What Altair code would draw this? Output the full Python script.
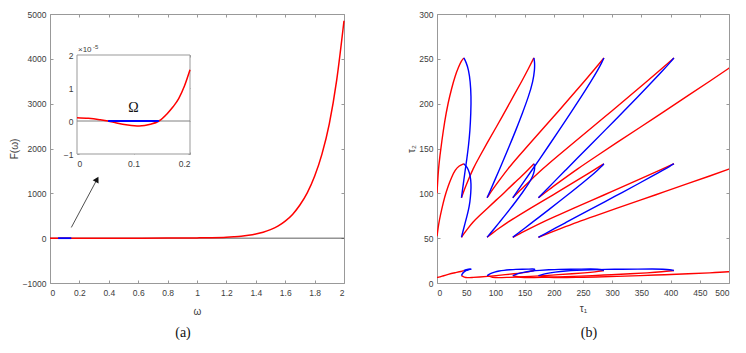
import altair as alt
import pandas as pd

SANS = "Liberation Sans, Arial, DejaVu Sans"
SERIF = "Liberation Serif, Times New Roman, DejaVu Serif"
LBL = "#3c3c3c"
BOX = "#999999"
RED = "#ff0000"
BLUE = "#0000ff"
FS = 8.5

# ---------------- panel (a): F(omega) ----------------
omega = [0.0, 0.2, 0.4, 0.6, 0.8, 1.0, 1.1, 1.2, 1.25, 1.3, 1.35, 1.4, 1.45, 1.5, 1.55, 1.6,
         1.65, 1.7, 1.75, 1.8, 1.85, 1.9, 1.95, 2.0]
F_omega = [0, 0, 0, 0.5, 2, 6, 11, 22, 32, 45, 66, 95, 134, 190, 268, 380,
           530, 740, 1010, 1380, 1875, 2550, 3520, 4850]
omega_ticks = [0, 0.2, 0.4, 0.6, 0.8, 1, 1.2, 1.4, 1.6, 1.8, 2]
F_ticks = [-1000, 0, 1000, 2000, 3000, 4000, 5000]
Omega_range = [0.055, 0.145]
arrow_omega = [0.145, 0.32]
arrow_F = [239, 1312]

# inset, F in units of 1e-5
zoom_omega = [0, 0.02, 0.04, 0.055, 0.07, 0.09, 0.11, 0.13, 0.145, 0.16, 0.17, 0.18, 0.19, 0.2]
zoom_F = [0.10, 0.08, 0.04, 0.0, -0.06, -0.12, -0.15, -0.10, 0.0, 0.23, 0.43, 0.68, 1.05, 1.55]
zoom_x_ticks = [0, 0.1, 0.2]
zoom_y_ticks = [-1, 0, 1, 2]

# ---------------- panel (b): crossing curves ----------------
tau1_ticks = [0, 50, 100, 150, 200, 250, 300, 350, 400, 450, 500]
tau2_ticks = [0, 50, 100, 150, 200, 250, 300]

# red branches (m = 1..4), tau1 shared by all families
red_tau1_m1 = [41.9, 46.8, 51.9, 61.8, 72.5, 86.3, 101.1, 117.0, 131.8, 145.5, 156.8, 165.9]
red_tau1_m2 = [85.8, 95.1, 104.3, 121.7, 138.6, 160.2, 183.2, 208.1, 231.5, 252.9, 271.0, 285.8]
red_tau1_m3 = [129.8, 143.5, 156.7, 181.5, 204.7, 234.1, 265.4, 299.1, 331.3, 360.3, 385.3, 405.7]
red_tau1_m4 = [173.7, 191.8, 209.0, 241.4, 270.9, 308.0, 347.5, 390.2, 431.0, 467.7, 499.5, 525.6]
red_tau2_n2 = [95.1, 104.2, 112.4, 127.7, 140.6, 156.6, 173.5, 191.7, 209.5, 225.3, 239.3, 251.0]
red_tau2_n1 = [51.0, 55.7, 60.1, 68.2, 74.9, 83.4, 92.3, 101.9, 111.3, 119.5, 126.9, 133.0]
red_tau2_n0 = [8.2, 6.2, 5.8, 6.3, 6.7, 7.4, 8.2, 9.3, 10.3, 11.3, 12.4, 13.9]
# red branches starting at the tau2 axis
red0_n2_tau1 = [0, 1, 2.5, 5, 8, 13, 19, 25, 31, 37, 42, 46]
red0_n2_tau2 = [100, 112, 127, 142, 157, 180, 201, 217, 231, 241, 248, 251]
red0_n1_tau1 = [0, 2, 4, 8, 13, 19, 25, 31, 38, 46]
red0_n1_tau2 = [52, 62, 70, 82, 96, 108, 118, 126, 131, 133]
red0_n0_tau1 = [0, 2.5, 8, 19, 31, 42, 46]
red0_n0_tau2 = [6.3, 6.3, 7.4, 9.8, 11.5, 12.9, 13.9]

# blue branches (m = 0..3)
blue_tau1_m0 = [46.0, 50.0, 54.0, 57.0, 58.5, 58.0, 56.5, 54.0, 51.0, 48.3, 45.8, 43.5, 41.9]
blue_tau1_m1 = [165.9, 167.3, 167.2, 164.5, 156.8, 146.6, 134.8, 124.0, 114.4, 106.5, 98.5, 91.2, 85.8]
blue_tau1_m2 = [285.8, 282.3, 275.8, 263.8, 247.3, 229.3, 208.7, 191.2, 175.5, 162.7, 149.9, 138.2, 129.8]
blue_tau1_m3 = [405.7, 399.2, 388.3, 369.5, 344.2, 317.4, 287.2, 261.4, 238.5, 220.4, 202.2, 185.7, 173.7]
blue_tau2_n2 = [251, 246, 238, 225, 208, 190, 170, 153, 138, 126, 114, 103, 95.1]
blue_tau2_n1 = [133, 130.4, 126.3, 119.4, 110.5, 101.1, 90.6, 81.6, 73.7, 67.4, 61.0, 55.2, 51.0]
blue_tau2_n0 = [13.9, 14.8, 15.4, 15.6, 15.5, 15.4, 15.3, 14.7, 14.1, 13.4, 12.2, 10.5, 8.2]


def add(rows, name, t1, t2):
    for i, (a, b) in enumerate(zip(t1, t2)):
        rows.append({"br": name, "i": i, "t1": a, "t2": b})


red_rows, blue_rows = [], []
for nname, t2 in [("n2", red_tau2_n2), ("n1", red_tau2_n1), ("n0", red_tau2_n0)]:
    for m, t1 in enumerate([red_tau1_m1, red_tau1_m2, red_tau1_m3, red_tau1_m4], start=1):
        add(red_rows, f"R{m}{nname}", t1, t2)
add(red_rows, "R0n2", red0_n2_tau1, red0_n2_tau2)
add(red_rows, "R0n1", red0_n1_tau1, red0_n1_tau2)
add(red_rows, "R0n0", red0_n0_tau1, red0_n0_tau2)
for nname, t2 in [("n2", blue_tau2_n2), ("n1", blue_tau2_n1), ("n0", blue_tau2_n0)]:
    for m, t1 in enumerate([blue_tau1_m0, blue_tau1_m1, blue_tau1_m2, blue_tau1_m3]):
        add(blue_rows, f"B{m}{nname}", t1, t2)
red_df = pd.DataFrame(red_rows)
blue_df = pd.DataFrame(blue_rows)

W, H = 294, 269
W2 = 292


def lab_axis(orient, values, title, fmt, title_pad=6, label_pad=4):
    return alt.Axis(orient=orient, values=values, format=fmt, title=title,
                    labelFont=SANS, labelFontSize=FS, labelColor=LBL,
                    titleFont=SANS, titleFontSize=10, titleFontWeight="normal",
                    titleColor=LBL, titlePadding=title_pad, labelPadding=label_pad,
                    ticks=False, domain=False, grid=False)


def tick_axis(orient, values, offset, size=3):
    return alt.Axis(orient=orient, values=values, offset=offset, labels=False,
                    ticks=True, tickSize=size, tickColor=BOX, tickWidth=1,
                    domain=False, grid=False, title=None)


# ---------- left main ----------
xs = alt.Scale(domain=[0, 2], nice=False, zero=False)
ys = alt.Scale(domain=[-1000, 5000], nice=False, zero=False)
main_df = pd.DataFrame({"w": omega, "F": F_omega})
zero_df = pd.DataFrame({"w": [0, 2], "F": [0, 0]})
seg_df = pd.DataFrame({"w": Omega_range, "F": [0, 0]})
arr_df = pd.DataFrame({"w": arrow_omega, "F": arrow_F})
head_df = pd.DataFrame({"w": [arrow_omega[1]], "F": [arrow_F[1]]})

zero_line = alt.Chart(zero_df).mark_line(color="#333333", strokeWidth=0.8).encode(
    x=alt.X("w:Q", scale=xs, axis=lab_axis("bottom", omega_ticks, "ω", "~g", title_pad=10, label_pad=5)),
    y=alt.Y("F:Q", scale=ys, axis=lab_axis("left", F_ticks, "F(ω)", "d", title_pad=3)),
)
red_curve = alt.Chart(main_df).mark_line(color=RED, strokeWidth=1.5, interpolate="monotone").encode(
    x=alt.X("w:Q", scale=xs, axis=None), y=alt.Y("F:Q", scale=ys, axis=None))
blue_seg = alt.Chart(seg_df).mark_line(color=BLUE, strokeWidth=1.8).encode(
    x=alt.X("w:Q", scale=xs, axis=None), y=alt.Y("F:Q", scale=ys, axis=None))
shaft = alt.Chart(arr_df).mark_line(color="#222222", strokeWidth=0.8).encode(
    x=alt.X("w:Q", scale=xs, axis=None), y=alt.Y("F:Q", scale=ys, axis=None))
head = alt.Chart(head_df).mark_point(shape="triangle-up", angle=29, filled=True, color="#111111",
                                     size=45, opacity=1).encode(
    x=alt.X("w:Q", scale=xs, axis=None), y=alt.Y("F:Q", scale=ys, axis=None))
tA = alt.Chart(zero_df).mark_point(opacity=0).encode(
    x=alt.X("w:Q", scale=xs, axis=tick_axis("top", omega_ticks, -H)),
    y=alt.Y("F:Q", scale=ys, axis=tick_axis("right", F_ticks, -W)))
tB = alt.Chart(zero_df).mark_point(opacity=0).encode(
    x=alt.X("w:Q", scale=xs, axis=tick_axis("bottom", omega_ticks, -H)),
    y=alt.Y("F:Q", scale=ys, axis=tick_axis("left", F_ticks, -W)))
main_sub = alt.layer(zero_line, red_curve, blue_seg, shaft, head, tA, tB).resolve_axis(
    x="independent", y="independent")

# ---------- inset ----------
IX0, IX1, IY0, IY1 = 27, 140, 140, 41
ixs = alt.Scale(domain=[0, 0.2], range=[IX0, IX1], nice=False, zero=False)
iys = alt.Scale(domain=[-1, 2], range=[IY0, IY1], nice=False, zero=False)
box_df = pd.DataFrame({"x0": [0], "x1": [0.2], "y0": [-1], "y1": [2]})
zdf = pd.DataFrame({"w": zoom_omega, "F": zoom_F})
izero = pd.DataFrame({"w": [0, 0.2], "F": [0, 0]})
iseg = pd.DataFrame({"w": Omega_range, "F": [0, 0]})
om_df = pd.DataFrame({"w": [0.1], "F": [0.4]})
exp_df = pd.DataFrame({"w": [0], "F": [2]})

ibox = alt.Chart(box_df).mark_rect(fill="white", stroke=BOX, strokeWidth=1).encode(
    x=alt.X("x0:Q", scale=ixs, axis=alt.Axis(orient="bottom", offset=-(H - IY0), values=zoom_x_ticks,
                                             format="~g", labelFont=SANS, labelFontSize=FS,
                                             labelColor=LBL, labelPadding=5, ticks=False,
                                             domain=False, grid=False, title=None)),
    x2="x1:Q",
    y=alt.Y("y0:Q", scale=iys, axis=alt.Axis(orient="left", offset=-IX0, values=zoom_y_ticks,
                                             format="d", labelFont=SANS, labelFontSize=FS,
                                             labelColor=LBL, labelPadding=4, ticks=False,
                                             domain=False, grid=False, title=None)),
    y2="y1:Q",
)
iz_line = alt.Chart(izero).mark_line(color="#808080", strokeWidth=1).encode(
    x=alt.X("w:Q", scale=ixs, axis=None), y=alt.Y("F:Q", scale=iys, axis=None))
ired = alt.Chart(zdf).mark_line(color=RED, strokeWidth=1.5, interpolate="monotone").encode(
    x=alt.X("w:Q", scale=ixs, axis=None), y=alt.Y("F:Q", scale=iys, axis=None))
iblue = alt.Chart(iseg).mark_line(color=BLUE, strokeWidth=1.8).encode(
    x=alt.X("w:Q", scale=ixs, axis=None), y=alt.Y("F:Q", scale=iys, axis=None))
iom = alt.Chart(om_df).mark_text(text="Ω", font=SERIF, fontSize=14, color="#111111",
                                 baseline="middle", align="center").encode(
    x=alt.X("w:Q", scale=ixs, axis=None), y=alt.Y("F:Q", scale=iys, axis=None))
iexp = alt.Chart(exp_df).mark_text(text="×10", font=SANS, fontSize=8, color=LBL,
                                   baseline="bottom", align="left", dx=1, dy=-1).encode(
    x=alt.X("w:Q", scale=ixs, axis=None), y=alt.Y("F:Q", scale=iys, axis=None))
iexp2 = alt.Chart(exp_df).mark_text(text="-5", font=SANS, fontSize=6, color=LBL,
                                    baseline="bottom", align="left", dx=16, dy=-5).encode(
    x=alt.X("w:Q", scale=ixs, axis=None), y=alt.Y("F:Q", scale=iys, axis=None))
itA = alt.Chart(izero).mark_point(opacity=0).encode(
    x=alt.X("w:Q", scale=ixs, axis=tick_axis("top", zoom_x_ticks, -IY0, 2)),
    y=alt.Y("F:Q", scale=iys, axis=tick_axis("right", zoom_y_ticks, -(W - IX0), 2)))
itB = alt.Chart(izero).mark_point(opacity=0).encode(
    x=alt.X("w:Q", scale=ixs, axis=tick_axis("bottom", zoom_x_ticks, -(H - IY1), 2)),
    y=alt.Y("F:Q", scale=iys, axis=tick_axis("left", zoom_y_ticks, -IX1, 2)))
inset_sub = alt.layer(ibox, iz_line, ired, iblue, iom, iexp, iexp2, itA, itB).resolve_axis(
    x="independent", y="independent")

left = alt.layer(main_sub, inset_sub).resolve_scale(x="independent", y="independent").properties(
    width=W, height=H,
    title=alt.TitleParams("(a)", orient="bottom", anchor="middle", frame="group", font=SERIF,
                          fontSize=14, fontWeight="normal", color="#111111", offset=9, dx=-14))

# ---------- right ----------
rxs = alt.Scale(domain=[0, 500], nice=False, zero=False)
rys = alt.Scale(domain=[0, 300], nice=False, zero=False)
rzero = pd.DataFrame({"t1": [0, 500], "t2": [0, 0]})
red_lines = alt.Chart(red_df).mark_line(color=RED, strokeWidth=1.4, clip=True, interpolate="basis").encode(
    x=alt.X("t1:Q", scale=rxs, axis=lab_axis("bottom", tau1_ticks, "τ₁", "d", title_pad=7, label_pad=5)),
    y=alt.Y("t2:Q", scale=rys, axis=lab_axis("left", tau2_ticks, "τ₂", "d", title_pad=2)),
    detail="br:N", order="i:Q")
blue_lines = alt.Chart(blue_df).mark_line(color=BLUE, strokeWidth=1.4, clip=True, interpolate="basis").encode(
    x=alt.X("t1:Q", scale=rxs, axis=None), y=alt.Y("t2:Q", scale=rys, axis=None),
    detail="br:N", order="i:Q")
rtA = alt.Chart(rzero).mark_point(opacity=0).encode(
    x=alt.X("t1:Q", scale=rxs, axis=tick_axis("top", tau1_ticks, -H)),
    y=alt.Y("t2:Q", scale=rys, axis=tick_axis("right", tau2_ticks, -W2)))
rtB = alt.Chart(rzero).mark_point(opacity=0).encode(
    x=alt.X("t1:Q", scale=rxs, axis=tick_axis("bottom", tau1_ticks, -H)),
    y=alt.Y("t2:Q", scale=rys, axis=tick_axis("left", tau2_ticks, -W2)))
right = alt.layer(red_lines, blue_lines, rtA, rtB).resolve_axis(x="independent", y="independent").properties(
    width=W2, height=H,
    title=alt.TitleParams("(b)", orient="bottom", anchor="middle", frame="group", font=SERIF,
                          fontSize=14, fontWeight="normal", color="#111111", offset=12, dx=6))

chart = alt.hconcat(left, right, spacing=58).properties(
    padding={"left": 0, "top": 1, "right": 0, "bottom": 0}
).configure_view(stroke=BOX, strokeWidth=1)

chart.save("out.html", embed_options={"renderer": "svg", "actions": False})
